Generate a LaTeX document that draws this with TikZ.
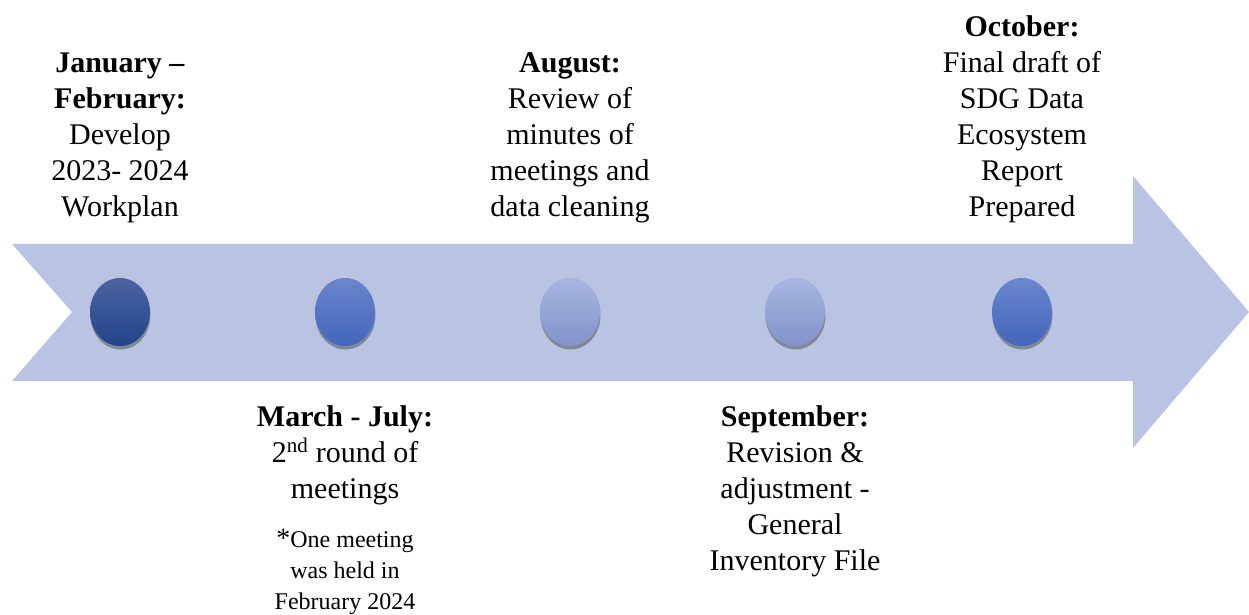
\documentclass[tikz,border=0pt]{standalone}
\usepackage{fontspec}
\setmainfont{Liberation Serif}
\usetikzlibrary{shapes.geometric,shadows,positioning}

\definecolor{bandblue}{HTML}{B8C4E2}
\definecolor{navytop}{HTML}{4D64A2}
\definecolor{navybot}{HTML}{214489}
\definecolor{midtop}{HTML}{6A86CD}
\definecolor{midbot}{HTML}{4366BB}
\definecolor{paletop}{HTML}{A7B6E1}
\definecolor{palebot}{HTML}{8194C9}

\tikzset{
    milestone/.style={ellipse,minimum width=60pt,minimum height=68pt,inner sep=0pt,
        drop shadow={shadow xshift=0.5pt,shadow yshift=-3.5pt,opacity=0.5,fill=black!70}},
    navydot/.style={milestone,top color=navytop,bottom color=navybot},
    middot/.style={milestone,top color=midtop,bottom color=midbot},
    paledot/.style={milestone,top color=paletop,bottom color=palebot},
    stage/.style={align=center,inner sep=0pt,font=\fontsize{30}{36}\selectfont},
    smallnote/.style={align=center,inner sep=0pt,font=\fontsize{24}{31}\selectfont}
}

\begin{document}
\begin{tikzpicture}[x=1pt,y=1pt]
    \def\ymid{303}
    \def\ytop{392}
    \def\ybot{210}
    \useasboundingbox (0,0) rectangle (1249,615);

    % the band with its notched tail and the arrow head
    \fill[bandblue] (12,371) -- (1133,371) -- (1133,439) -- (1249,\ymid)
        -- (1133,167) -- (1133,234) -- (12,234) -- (72,\ymid) -- cycle;

    % milestones
    \node[navydot] (dot1) at (120,\ymid) {};
    \node[middot]  (dot2) at (345,\ymid) {};
    \node[paledot] (dot3) at (570,\ymid) {};
    \node[paledot] (dot4) at (795,\ymid) {};
    \node[middot]  (dot5) at (1022,\ymid) {};

    % labels above the band
    \node[stage,anchor=south] (jan) at (120,\ytop)
        {\textbf{January –}\\\textbf{February:}\\Develop\\2023- 2024\\Workplan};
    \node[stage,anchor=south] (aug) at (570,\ytop)
        {\textbf{August:}\\Review of\\minutes of\\meetings and\\data cleaning};
    \node[stage,anchor=south] (oct) at (1022,\ytop)
        {\textbf{October:}\\Final draft of\\SDG Data\\Ecosystem\\Report\\Prepared};

    % labels below the band
    \node[stage,anchor=north] (mar) at (345,\ybot)
        {\textbf{March - July:}\\2\textsuperscript{nd} round of\\meetings};
    \node[smallnote,below=24pt of mar] (marnote)
        {{\fontsize{28}{31}\selectfont*}One meeting\\was held in\\February 2024};
    \node[stage,anchor=north] (sep) at (795,\ybot)
        {\textbf{September:}\\Revision \&\\adjustment -\\General\\Inventory File};
\end{tikzpicture}
\end{document}
